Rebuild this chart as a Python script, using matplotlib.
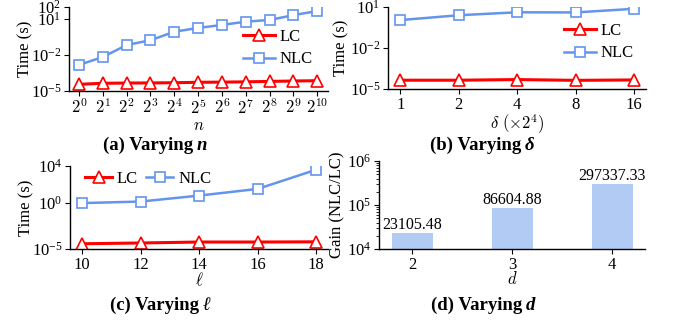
"""
fig_scalability.py -- LC vs NLC 실행시간 / gain (4 panels)
출력: out.png
"""

import matplotlib
matplotlib.use("Agg")
import matplotlib.pyplot as plt
from matplotlib.ticker import FixedLocator, NullLocator, LogLocator

plt.rcParams['font.family'] = ['Liberation Serif', 'DejaVu Serif']
plt.rcParams['mathtext.fontset'] = 'cm'
plt.rcParams['axes.linewidth'] = 1.0

W, H = 673, 320

# (a) varying n
N_LABELS = [r"$2^{%d}$" % i for i in range(11)]
N_LC = [3.6e-5, 4.4e-5, 4.6e-5, 4.7e-5, 4.9e-5, 5.3e-5, 5.5e-5, 5.8e-5, 6.3e-5, 6.8e-5, 7.2e-5]
N_NLC = [1.5e-3, 6.8e-3, 0.068, 0.17, 0.87, 1.8, 3.2, 6.0, 8.3, 21, 46]

# (b) varying delta
D_LABELS = ["1", "2", "4", "8", "16"]
D_LC = [4.4e-5, 4.4e-5, 4.9e-5, 4.3e-5, 4.6e-5]
D_NLC = [1.1, 2.5, 4.1, 4.0, 7.4]

# (c) varying l
L_LABELS = ["10", "12", "14", "16", "18"]
L_LC = [3.7e-5, 4.5e-5, 5.7e-5, 5.7e-5, 6.0e-5]
L_NLC = [0.95, 1.4, 6.2, 33, 4000]

# (d) varying d
G_LABELS = ["2", "3", "4"]
G_GAIN = [23105.48, 86604.88, 297337.33]

RED = "#ff0000"
BLUE = "#6495ed"
BAR = "#b2cbf4"
FS = 12


def px_axes(l, r, t, b):
    return fig.add_axes([l / W, 1 - b / H, (r - l) / W, (b - t) / H])


def style(ax):
    for s in ("top", "right"):
        ax.spines[s].set_visible(False)
    ax.tick_params(direction="out", length=3.5, width=0.8, labelsize=12, pad=2)


def lines(ax, labels, lc, nlc):
    x = list(range(len(labels)))
    ax.plot(x, lc, color=RED, lw=2.2, marker="^", ms=8, mfc="white",
            mec=RED, mew=1.2, label="LC")
    ax.plot(x, nlc, color=BLUE, lw=1.8, marker="s", ms=7.5, mfc="white",
            mec=BLUE, mew=1.2, label="NLC")
    ax.set_yscale("log")
    ax.set_xticks(x)
    ax.set_xticklabels(labels)
    ax.yaxis.set_minor_locator(NullLocator())
    style(ax)


def caption(x_right, y_base, head, var):
    fig.text(x_right / W, 1 - y_base / H, head, ha="right", va="baseline",
             fontsize=13.5, fontweight="bold")
    fig.text((x_right + 4) / W, 1 - y_base / H, var, ha="left", va="baseline",
             fontsize=13.5, fontweight="bold", fontstyle="italic")


fig = plt.figure(figsize=(W / 100, H / 100), dpi=100)

# (a)
ax = px_axes(69, 328, 7, 91)
lines(ax, N_LABELS, N_LC, N_NLC)
ax.set_ylim(1e-5, 1e2)
ax.set_xlim(-0.42, 10.45)
ax.yaxis.set_major_locator(FixedLocator([1e-5, 1e-2, 1e1, 1e2]))
ax.set_ylabel("Time (s)", fontsize=FS, labelpad=-2)
ax.set_xlabel(r"$n$", fontsize=FS, labelpad=0)
ax.legend(loc="upper left", bbox_to_anchor=(0.64, 0.84), frameon=False,
          fontsize=FS, handlelength=1.9, handletextpad=0.3, borderpad=0,
          labelspacing=0.4)

# (b)
ax = px_axes(388, 646, 7, 89)
lines(ax, D_LABELS, D_LC, D_NLC)
ax.set_ylim(1e-5, 1e1)
ax.set_xlim(-0.21, 4.2)
ax.yaxis.set_major_locator(FixedLocator([1e-5, 1e-2, 1e1]))
ax.set_ylabel("Time (s)", fontsize=FS, labelpad=0)
ax.set_xlabel(r"$\delta\ (\times 2^4)$", fontsize=FS, labelpad=0)
ax.legend(loc="upper left", bbox_to_anchor=(0.65, 0.91), frameon=False,
          fontsize=FS, handlelength=1.9, handletextpad=0.3, borderpad=0,
          labelspacing=0.4)

# (c)
ax = px_axes(70, 328, 166, 249)
lines(ax, L_LABELS, L_LC, L_NLC)
ax.set_ylim(1e-5, 1e4)
ax.set_xlim(-0.21, 4.2)
ax.yaxis.set_major_locator(FixedLocator([1e-5, 1e0, 1e4]))
ax.set_ylabel("Time (s)", fontsize=FS, labelpad=-2)
ax.set_xlabel(r"$\ell$", fontsize=FS, labelpad=-1)
ax.legend(loc="upper left", bbox_to_anchor=(0.027, 1.04), frameon=False,
          fontsize=FS, ncol=2, handlelength=1.6, handletextpad=0.3,
          borderpad=0, columnspacing=0.5)

# (d)
ax = px_axes(379, 645, 161, 249)
x = list(range(len(G_LABELS)))
bars = ax.bar(x, G_GAIN, width=0.41, color=BAR, log=True)
ax.set_ylim(1e4, 1e6)
ax.set_xlim(-0.33, 2.33)
ax.set_xticks(x)
ax.set_xticklabels(G_LABELS)
ax.yaxis.set_major_locator(FixedLocator([1e4, 1e5, 1e6]))
ax.yaxis.set_minor_locator(LogLocator(base=10, subs=range(2, 10)))
ax.tick_params(which="minor", length=2, width=0.6)
ax.bar_label(bars, fmt="%.2f", fontsize=11.5, padding=0)
ax.set_ylabel("Gain (NLC/LC)", fontsize=FS, labelpad=1)
ax.set_xlabel(r"$d$", fontsize=FS, labelpad=-1)
style(ax)

caption(193, 149.5, "(a) Varying", "n")
caption(521, 149.5, "(b) Varying", "δ")
caption(199, 309.5, "(c) Varying", "ℓ")
caption(522, 309.5, "(d) Varying", "d")

fig.savefig("out.png", dpi=100)
